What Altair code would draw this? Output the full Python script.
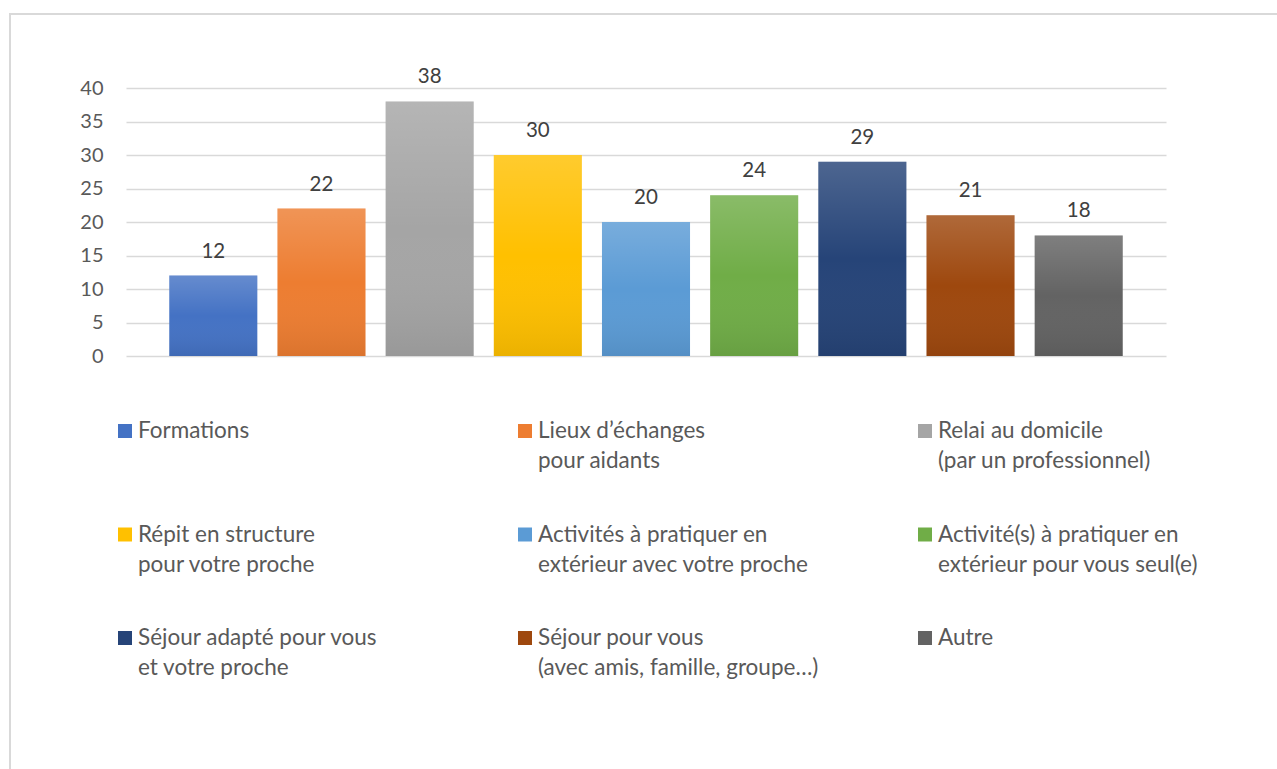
import altair as alt
import pandas as pd

categories = [
    "Formations",
    "Lieux d’échanges\n\u00a0pour aidants",
    "Relai au domicile\n(par un professionnel)",
    "Répit en structure\npour votre proche",
    "Activités à pratiquer en\nextérieur avec votre proche",
    "Activité(s) à pratiquer en\nextérieur pour vous seul(e)",
    "Séjour adapté pour vous\net votre proche",
    "Séjour pour vous\n(avec amis, famille, groupe…)",
    "Autre",
]
values = [12, 22, 38, 30, 20, 24, 29, 21, 18]
colors = ["#4472C4", "#ED7D31", "#A5A5A5", "#FFC000", "#5B9BD5",
          "#70AD47", "#264478", "#9E480E", "#636363"]
y_ticks = [0, 5, 10, 15, 20, 25, 30, 35, 40]

df = pd.DataFrame({"cat": categories, "val": values})
df["col"] = [i % 3 for i in range(len(categories))]
df["row"] = [i // 3 for i in range(len(categories))]

FONT = "Lato"
TXT = "#595959"

xenc = alt.X("cat:N", sort=categories, axis=None,
             scale=alt.Scale(paddingInner=0.186, paddingOuter=0.40))
yenc = alt.Y("val:Q", title=None,
             scale=alt.Scale(domain=[0, 40], nice=False),
             axis=alt.Axis(values=y_ticks, ticks=False, domain=False,
                           labelPadding=23, labelFont=FONT, labelFontSize=20,
                           labelColor=TXT, grid=True, gridColor="#d9d9d9",
                           gridWidth=1.3))
color_scale = alt.Scale(domain=categories, range=colors)

bars = alt.Chart(df).mark_bar().encode(
    x=xenc, y=yenc,
    color=alt.Color("cat:N", scale=color_scale, legend=None),
)

overlay = alt.Chart(df).mark_bar(
    fill={
        "gradient": "linear", "x1": 0, "y1": 0, "x2": 0, "y2": 1,
        "stops": [
            {"offset": 0, "color": "rgba(255,255,255,0.18)"},
            {"offset": 0.5, "color": "rgba(255,255,255,0)"},
            {"offset": 1, "color": "rgba(0,0,0,0.08)"},
        ],
    }
).encode(x=xenc, y=yenc)

labels = alt.Chart(df).mark_text(
    baseline="alphabetic", dy=-18, font=FONT, fontSize=20.5, color="#404040"
).encode(x=xenc, y=yenc, text="val:Q")

main = alt.layer(bars, overlay, labels)

lx = alt.X("col:Q", axis=None, scale=alt.Scale(domain=[0, 2], range=[-1, 799]))
ly = alt.Y("row:Q", axis=None, scale=alt.Scale(domain=[0, 2], range=[343, 550]))

leg_sq = alt.Chart(df).mark_square(size=196, opacity=1).encode(
    x=lx, y=ly,
    fill=alt.Fill("cat:N", scale=color_scale, legend=None),
)
leg_txt = alt.Chart(df).mark_text(
    align="left", baseline="alphabetic", dx=13, dy=7, lineBreak="\n",
    lineHeight=30, font=FONT, fontSize=22.5, color=TXT
).encode(x=lx, y=ly, text="cat:N")

legend = alt.layer(leg_sq, leg_txt)

frame = alt.Chart(df).mark_rect(fill=None, stroke="#d9d9d9", strokeWidth=1.5).encode(
    x=alt.value(-116), x2=alt.value(1200), y=alt.value(-74), y2=alt.value(720)
)

chart = alt.layer(main, legend, frame).resolve_scale(
    x="independent", y="independent"
).properties(
    width=1040, height=268,
    autosize=alt.AutoSizeParams(type="none"),
    padding={"left": 126, "top": 88, "right": 111, "bottom": 413},
).configure_view(stroke=None)

chart.save("out.html", embed_options={"renderer": "svg", "actions": False})
